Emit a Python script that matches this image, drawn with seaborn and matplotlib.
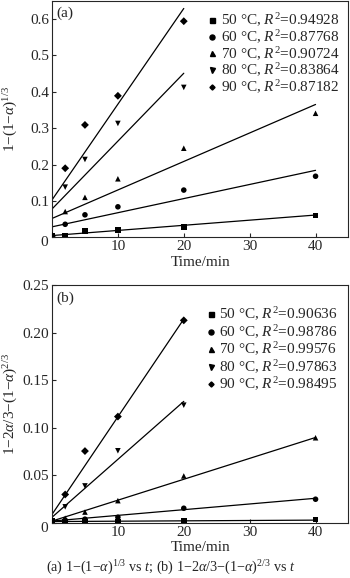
import numpy as np
import pandas as pd
import matplotlib
matplotlib.use('Agg')
import matplotlib.pyplot as plt
from matplotlib.lines import Line2D
import seaborn as sns

# ---- data ----
temps = ['50', '60', '70', '80', '90']
markers = ['s', 'o', '^', 'v', 'D']

t_long = [0, 2, 5, 10, 20, 40]   # 50, 60, 70 C
t_short = [0, 2, 5, 10, 20]      # 80, 90 C

# panel (a): 1-(1-a)^(1/3)
a_50 = [0.004, 0.005, 0.018, 0.020, 0.029, 0.060]
a_60 = [0.004, 0.036, 0.062, 0.084, 0.130, 0.168]
a_70 = [0.004, 0.071, 0.110, 0.161, 0.245, 0.341]
a_80 = [0.004, 0.138, 0.214, 0.313, 0.412]
a_90 = [0.004, 0.190, 0.309, 0.389, 0.594]
a_r2 = ['0.94928', '0.87768', '0.90724', '0.83864', '0.87182']
a_fit_b = [0.005, 0.029, 0.052, 0.078, 0.103]
a_fit_k = [0.00141, 0.00388, 0.00783, 0.01865, 0.0263]

# panel (b): 1-2a/3-(1-a)^(2/3)
b_50 = [0.002, 0.001, 0.001, 0.001, 0.0025, 0.0035]
b_60 = [0.002, 0.003, 0.004, 0.006, 0.0155, 0.025]
b_70 = [0.002, 0.005, 0.0115, 0.0235, 0.0495, 0.0897]
b_80 = [0.002, 0.017, 0.039, 0.076, 0.124]
b_90 = [0.002, 0.030, 0.0757, 0.112, 0.2133]
b_r2 = ['0.90636', '0.98786', '0.99576', '0.97863', '0.98495']
b_fit_b = [0.0015, 0.002, 0.002, 0.006, 0.009]
b_fit_k = [0.0000375, 0.0006, 0.0022, 0.0061, 0.01028]

t_fit_end = [40, 40, 40, 20, 20]

sns.set_style('ticks')
plt.rcParams['font.family'] = ['Liberation Serif', 'DejaVu Serif']
plt.rcParams['mathtext.fontset'] = 'custom'
plt.rcParams['mathtext.rm'] = 'Liberation Serif'
plt.rcParams['mathtext.it'] = 'Liberation Serif:italic'
plt.rcParams['font.size'] = 11


def make_frames(series, r2, fit_b, fit_k):
    times = [t_long, t_long, t_long, t_short, t_short]
    pts, fits = [], []
    for i, temp in enumerate(temps):
        lab = temp + ' \u00b0C, $R^2$=' + r2[i]
        pts.append(pd.DataFrame({'t': times[i], 'v': series[i], 'lab': lab}))
        xs = np.array([0, t_fit_end[i]])
        fits.append(pd.DataFrame({'t': xs, 'v': fit_b[i] + fit_k[i] * xs, 'lab': lab}))
    return pd.concat(pts), pd.concat(fits)


def draw(ax, series, r2, fit_b, fit_k, ylim, yticks, ytl, ylabel, tag, leg_anchor, leg_space):
    pts, fits = make_frames(series, r2, fit_b, fit_k)
    labels = list(pts['lab'].unique())
    sns.lineplot(data=fits, x='t', y='v', units='lab', estimator=None,
                 color='black', lw=0.9, ax=ax, legend=False)
    sns.scatterplot(data=pts, x='t', y='v', hue='lab', style='lab',
                    palette=['black'] * 5, markers=dict(zip(labels, markers)),
                    s=16, linewidth=0, ax=ax, legend=False, zorder=3)
    ax.set_xlim(0, 45)
    ax.set_ylim(*ylim)
    ax.set_xticks([0, 10, 20, 30, 40])
    ax.set_xticklabels(['', '10', '20', '30', '40'])
    ax.set_yticks(yticks)
    ax.set_yticklabels([''] + ytl[1:])
    ax.text(-0.012, -0.022, '0', transform=ax.transAxes, ha='right', va='center')
    ax.tick_params(direction='in', length=3, width=0.8, pad=2)
    for sp in ax.spines.values():
        sp.set_linewidth(0.8)
    ax.set_xlabel('Time/min', labelpad=0)
    ax.set_ylabel(ylabel)
    ax.xaxis.set_label_coords(0.5, -0.078)
    ax.yaxis.set_label_coords(-0.108, 0.5)
    ax.text(0.015, 0.975, tag, transform=ax.transAxes, ha='left', va='top')
    handles = [Line2D([], [], marker=m, color='black', ls='', markersize=3.6 if m != 'D' else 2.6)
               for m in markers]
    ax.legend(handles, labels, loc='upper right', bbox_to_anchor=leg_anchor, frameon=False,
              borderpad=0, handlelength=0.5, handletextpad=0.3, labelspacing=leg_space,
              borderaxespad=0)


fig = plt.figure(figsize=(3.5, 5.78), dpi=100)
ax_a = fig.add_axes([0.1486, 0.5893, 0.8471, 0.4093])
ax_b = fig.add_axes([0.1486, 0.0952, 0.8471, 0.4109])

draw(ax_a, [a_50, a_60, a_70, a_80, a_90], a_r2, a_fit_b, a_fit_k,
     (0, 0.65), [0, 0.1, 0.2, 0.3, 0.4, 0.5, 0.6],
     ['0', '0.1', '0.2', '0.3', '0.4', '0.5', '0.6'],
     r'1$-$(1$-\alpha$)$^{1/3}$', '(a)', (0.97, 0.955), -0.05)
draw(ax_b, [b_50, b_60, b_70, b_80, b_90], b_r2, b_fit_b, b_fit_k,
     (0, 0.25), [0, 0.05, 0.10, 0.15, 0.20, 0.25],
     ['0', '0.05', '0.10', '0.15', '0.20', '0.25'],
     r'1$-$2$\alpha$/3$-$(1$-\alpha$)$^{2/3}$', '(b)', (0.963, 0.915), 0.0)

fig.text(0.489, 0.0173, r'(a) 1$-$(1$-\alpha$)$^{1/3}$ vs $t$; (b) 1$-$2$\alpha$/3$-$(1$-\alpha$)$^{2/3}$ vs $t$',
         ha='center', va='center', fontsize=10.2)

fig.savefig('out.png', dpi=100)
